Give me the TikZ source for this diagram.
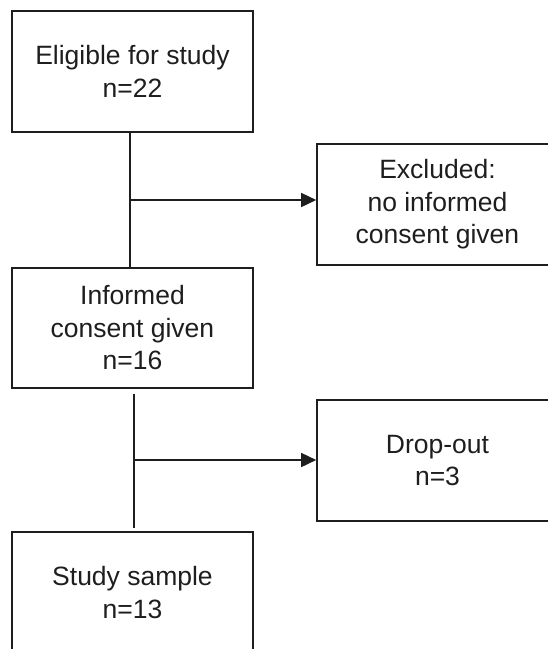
\documentclass[tikz,border=0pt]{standalone}
\usepackage{fontspec}
\setmainfont{Liberation Sans}
\usetikzlibrary{arrows.meta}
\definecolor{ink}{HTML}{1E1E1E}
\begin{document}
\begin{tikzpicture}[x=1pt,y=-1pt,
  box/.style={draw=ink, line width=1.6pt, minimum width=241pt, minimum height=121pt,
    inner sep=0pt, align=center, text=ink, font=\fontsize{26.5}{32.5}\selectfont},
  link/.style={draw=ink, line width=1.6pt},
  arr/.style={link, -{Triangle[length=15pt,width=14pt]}}]
\useasboundingbox (0,0) rectangle (548,649);
\clip (0,0) rectangle (548,649);
\node[box] (b1) at (132.5,71.5) {Eligible for study\\n=22};
\node[box] (b2) at (437.5,204.5) {Excluded:\\no informed\\consent given};
\node[box, minimum height=120pt] (b3) at (132.5,328) {Informed\\consent given\\n=16};
\node[box] (b4) at (437.5,460.5) {Drop-out\\n=3};
\node[box] (b5) at (132.5,592.5) {Study sample\\n=13};
\coordinate (j1) at (130,200);
\coordinate (t2) at (134,394);
\coordinate (j2) at (134,460);
\coordinate (e2) at (134,528);
\draw[link] (b1.south -| j1) -- (b3.north -| j1);
\draw[arr] (j1) -- (j1 -| b2.west);
\draw[link] (t2) -- (e2);
\draw[arr] (j2) -- (j2 -| b4.west);
\end{tikzpicture}
\end{document}
